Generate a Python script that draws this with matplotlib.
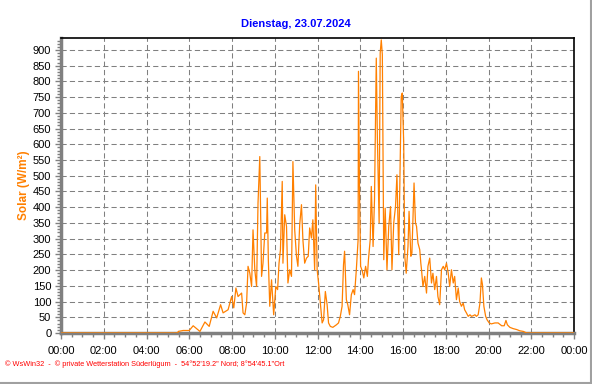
import matplotlib
matplotlib.use('Agg')
import matplotlib.pyplot as plt
from matplotlib.ticker import MultipleLocator, FuncFormatter
from matplotlib.lines import Line2D

# Solarstrahlung 23.07.2024, Werte
zeiten = [
    "00:00", "05:28", "05:29", "05:43", "06:00", "06:11", "06:30", "06:44", "06:56",
    "07:07", "07:17", "07:28", "07:35", "07:49", "07:59", "08:05", "08:11", "08:17",
    "08:27", "08:31", "08:36", "08:41", "08:45", "08:50", "08:55", "08:59", "09:04",
    "09:09", "09:13", "09:18", "09:23", "09:27", "09:32", "09:37", "09:39", "09:42",
    "09:46", "09:51", "09:57", "10:03", "10:08", "10:12", "10:16", "10:21", "10:23",
    "10:28", "10:33", "10:37", "10:42", "10:47", "10:51", "10:56", "11:01", "11:05",
    "11:10", "11:15", "11:19", "11:24", "11:29", "11:34", "11:38", "11:43", "11:47",
    "11:52", "11:55", "11:59", "12:03", "12:08", "12:13", "12:17", "12:22", "12:27",
    "12:31", "12:36", "12:43", "12:53", "12:59", "13:04", "13:09", "13:13", "13:16",
    "13:21", "13:25", "13:30", "13:35", "13:40", "13:44", "13:49", "13:54", "13:55",
    "13:58", "14:01", "14:06", "14:10", "14:15", "14:20", "14:23", "14:28", "14:31",
    "14:36", "14:40", "14:45", "14:48", "14:53", "14:56", "14:59", "15:02", "15:06",
    "15:10", "15:15", "15:20", "15:25", "15:29", "15:34", "15:39", "15:43", "15:48",
    "15:55", "15:58", "16:02", "16:05", "16:09", "16:14", "16:17", "16:22", "16:25",
    "16:28", "16:31", "16:35", "16:38", "16:42", "16:47", "16:50", "16:52", "16:56",
    "17:01", "17:06", "17:10", "17:15", "17:20", "17:24", "17:29", "17:34", "17:38",
    "17:43", "17:48", "17:53", "17:57", "18:02", "18:07", "18:11", "18:16", "18:21",
    "18:25", "18:30", "18:35", "18:39", "18:44", "18:49", "18:53", "18:58", "19:03",
    "19:08", "19:12", "19:17", "19:22", "19:26", "19:31", "19:36", "19:40", "19:43",
    "19:47", "19:52", "19:56", "20:02", "20:08", "20:18", "20:27", "20:37", "20:44",
    "20:49", "20:53", "21:00", "21:09", "21:19", "21:28", "21:38", "21:47", "23:59",
]
solar = [
    0, 0, 5, 8, 8, 23, 5, 35, 21,
    69, 48, 90, 64, 74, 116, 80, 143, 116,
    127, 64, 58, 95, 212, 190, 148, 328, 201,
    148, 413, 561, 180, 222, 318, 318, 429, 233,
    85, 169, 58, 148, 138, 222, 265, 482, 222,
    376, 339, 159, 201, 180, 545, 328, 244, 212,
    344, 408, 297, 222, 238, 244, 334, 302, 360,
    201, 471, 201, 159, 95, 32, 42, 132, 90,
    32, 21, 18, 26, 32, 53, 85, 217, 260,
    106, 90, 58, 122, 138, 122, 201, 297, 832,
    445, 212, 196, 175, 212, 180, 233, 297, 466,
    275, 424, 874, 625, 350, 890, 932, 885, 233,
    397, 201, 339, 402, 201, 350, 402, 503, 249,
    752, 763, 604, 244, 190, 275, 387, 244, 254,
    371, 477, 350, 339, 286, 265, 222, 201, 148,
    180, 127, 212, 238, 159, 190, 138, 180, 116,
    90, 201, 212, 201, 222, 190, 148, 201, 159,
    180, 106, 143, 100, 85, 95, 74, 64, 53,
    58, 53, 55, 58, 53, 58, 95, 175, 154,
    85, 53, 42, 32, 29, 32, 32, 23, 23,
    40, 26, 18, 14, 11, 7, 5, 0, 0,
]

stunden = [int(z[:2]) + int(z[3:]) / 60 for z in zeiten]

fig = plt.figure(figsize=(5.92, 3.84), dpi=100)
ax = fig.add_axes([61 / 592, 1 - 333 / 384, 513 / 592, 295 / 384])

ax.plot(stunden, solar, color='#FF8000', linewidth=0.9, zorder=3)

ax.set_xlim(0, 24)
ax.set_ylim(0, 938)

ax.xaxis.set_major_locator(MultipleLocator(2))
ax.xaxis.set_minor_locator(MultipleLocator(0.5))
ax.xaxis.set_major_formatter(FuncFormatter(lambda v, p: f"{int(v) % 24:02d}:00"))
ax.yaxis.set_major_locator(MultipleLocator(50))
ax.yaxis.set_minor_locator(MultipleLocator(10))

ax.grid(True, which='major', color='#808080', linestyle=(0, (5, 3)), linewidth=0.75)

for s in ['top', 'right']:
    ax.spines[s].set_color('black')
    ax.spines[s].set_linewidth(1.2)
for s in ['left', 'bottom']:
    ax.spines[s].set_color('#808080')
    ax.spines[s].set_linewidth(2.5)

ax.tick_params(axis='both', which='major', colors='#808080', labelcolor='black',
               labelsize=8, length=4, width=1)
ax.tick_params(axis='both', which='minor', colors='#808080', length=3, width=1)
ax.tick_params(axis='y', which='major', pad=3)
ax.tick_params(axis='x', which='major', pad=5)
for lab in ax.get_xticklabels() + ax.get_yticklabels():
    lab.set_fontfamily('Liberation Sans')

ax.set_ylabel('Solar (W/m²)', color='#FF8000', fontsize=8.5, fontweight='bold',
              fontfamily='Liberation Sans', labelpad=2)

fig.text(0.5, 1 - 24 / 384, 'Dienstag, 23.07.2024', color='#0000FF', fontsize=8,
         fontweight='bold', fontfamily='Liberation Sans', ha='center', va='center')

fig.text(5 / 592, 1 - 364 / 384,
         '© WsWin32  -  © private Wetterstation Süderlügum  -  54°52\'19.2" Nord; 8°54\'45.1"Ort',
         color='#FF0000', fontsize=5.3, fontfamily='Liberation Sans', ha='left', va='center')

# Rahmen unten und rechts
fig.add_artist(Line2D([0, 1], [1.5 / 384, 1.5 / 384], color='#A0A0A0', linewidth=1.5,
                      transform=fig.transFigure))
fig.add_artist(Line2D([590.5 / 592, 590.5 / 592], [0, 1], color='#A0A0A0', linewidth=1.5,
                      transform=fig.transFigure))

fig.savefig('out.png', dpi=100)
